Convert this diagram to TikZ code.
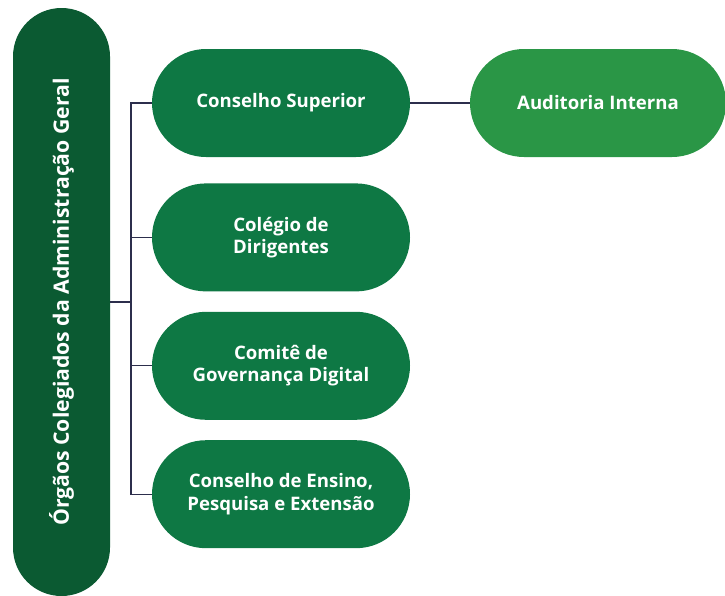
\documentclass[tikz,border=0pt]{standalone}
\usepackage{fontspec}
\setmainfont{Open Sans}
\usetikzlibrary{positioning, shapes.misc}
\definecolor{verdeEscuro}{HTML}{0B5A32}
\definecolor{verdeMedio}{HTML}{0E7844}
\definecolor{verdeClaro}{HTML}{2A9646}
\definecolor{azulLinha}{HTML}{2C2E4C}

\begin{document}
\begin{tikzpicture}[x=1pt, y=-1pt,
    every node/.style={text=white, align=center, inner sep=0pt,
        font=\bfseries\fontsize{18.6}{22.5}\selectfont},
    orgao/.style={rounded rectangle, fill=verdeMedio,
        minimum width=258pt, minimum height=108pt},
    ligacao/.style={draw=azulLinha, line width=1.3pt}]
    \useasboundingbox (0,0) rectangle (725,595);

    % coluna principal
    \node[rounded rectangle, fill=verdeEscuro, rotate=90,
        minimum width=588pt, minimum height=97pt,
        font=\bfseries\fontsize{21.2}{25}\selectfont] (geral) at (61.5,302)
        {Órgãos Colegiados da Administração Geral};

    % colegiados
    \node[orgao] (superior) at (281,103) {Conselho Superior};
    \node[orgao, below=26pt of superior] (dirigentes) {Colégio de\\Dirigentes};
    \node[orgao, below=20pt of dirigentes] (governanca) {Comitê de\\Governança Digital};
    \node[orgao, below=20pt of governanca] (ensino) {Conselho de Ensino,\\Pesquisa e Extensão};
    \node[orgao, fill=verdeClaro, minimum width=256pt] (auditoria) at (598,103) {Auditoria Interna};

    \coordinate (barra) at (131,302);
    \draw[ligacao] (geral.south |- barra) -- (barra);
    \draw[ligacao] (superior.west) -| (barra |- ensino.west) -- (ensino.west);
    \draw[ligacao] (barra |- dirigentes.west) -- (dirigentes.west);
    \draw[ligacao] (barra |- governanca.west) -- (governanca.west);
    \draw[ligacao] (superior.east) -- (auditoria.west);
\end{tikzpicture}
\end{document}
